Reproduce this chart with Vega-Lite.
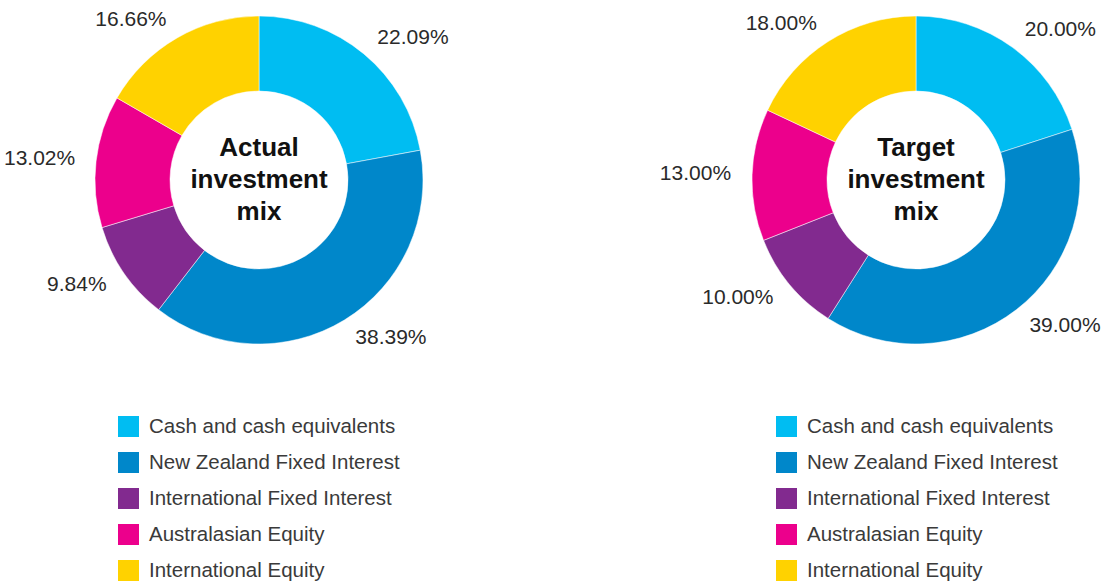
{
  "$schema": "https://vega.github.io/schema/vega-lite/v6.json",
  "padding": 0,
  "spacing": 204,
  "bounds": "flush",
  "background": "white",
  "config": {
    "view": {"stroke": null},
    "font": "Liberation Sans",
    "legend": {"padding": 0}
  },
  "datasets": {
    "actual": [
      {"category": "Cash and cash equivalents", "value": 22.09, "label": "22.09%", "ord": 1},
      {"category": "New Zealand Fixed Interest", "value": 38.39, "label": "38.39%", "ord": 2},
      {"category": "International Fixed Interest", "value": 9.84, "label": "9.84%", "ord": 3},
      {"category": "Australasian Equity", "value": 13.02, "label": "13.02%", "ord": 4},
      {"category": "International Equity", "value": 16.66, "label": "16.66%", "ord": 5}
    ],
    "target": [
      {"category": "Cash and cash equivalents", "value": 20.0, "label": "20.00%", "ord": 1},
      {"category": "New Zealand Fixed Interest", "value": 39.0, "label": "39.00%", "ord": 2},
      {"category": "International Fixed Interest", "value": 10.0, "label": "10.00%", "ord": 3},
      {"category": "Australasian Equity", "value": 13.0, "label": "13.00%", "ord": 4},
      {"category": "International Equity", "value": 18.0, "label": "18.00%", "ord": 5}
    ],
    "titles": [
      {"chart": "actual", "title": "Actual\ninvestment\nmix"},
      {"chart": "target", "title": "Target\ninvestment\nmix"}
    ]
  },
  "resolve": {"scale": {"color": "independent", "theta": "independent"}, "legend": {"color": "independent"}},
  "hconcat": [
    {
      "width": 518,
      "height": 360,
      "data": {"name": "actual"},
      "encoding": {
        "theta": {"field": "value", "type": "quantitative", "stack": true},
        "order": {"field": "ord", "type": "quantitative"}
      },
      "layer": [
        {
          "mark": {"type": "arc", "innerRadius": 89, "outerRadius": 164, "stroke": "white", "strokeWidth": 0.5},
          "encoding": {
            "color": {
              "field": "category", "type": "nominal",
              "scale": {
                "domain": ["Cash and cash equivalents", "New Zealand Fixed Interest", "International Fixed Interest", "Australasian Equity", "International Equity"],
                "range": ["#00BDF2", "#0087CA", "#822A8F", "#EC008C", "#FFD200"]
              },
              "legend": {
                "title": null, "orient": "none", "legendX": 118, "legendY": 416,
                "symbolType": "square", "symbolSize": 441, "symbolStrokeWidth": 0, "symbolOpacity": 1,
                "labelFont": "Liberation Sans", "labelFontSize": 20.5, "labelColor": "#3a3a3a",
                "labelOffset": 10, "rowPadding": 15, "labelLimit": 400
              }
            }
          }
        },
        {
          "mark": {"type": "text", "radius": 185, "align": "left", "baseline": "middle", "fontSize": 21, "color": "#2a2a2a"},
          "encoding": {
            "text": {"condition": {"test": "datum.ord <= 2", "field": "label"}, "value": ""}
          }
        },
        {
          "mark": {"type": "text", "radius": 185, "align": "right", "baseline": "middle", "fontSize": 21, "color": "#2a2a2a"},
          "encoding": {
            "text": {"condition": {"test": "datum.ord > 2", "field": "label"}, "value": ""}
          }
        },
        {
          "data": {"name": "titles"},
          "transform": [{"filter": "datum.chart == 'actual'"}],
          "mark": {"type": "text", "align": "center", "baseline": "middle", "dy": -32, "fontSize": 26, "fontWeight": "bold", "lineBreak": "\n", "lineHeight": 32, "color": "#111111"},
          "encoding": {"text": {"field": "title"}, "theta": null, "order": null}
        }
      ]
    },
    {
      "width": 388,
      "height": 360,
      "data": {"name": "target"},
      "encoding": {
        "theta": {"field": "value", "type": "quantitative", "stack": true},
        "order": {"field": "ord", "type": "quantitative"}
      },
      "layer": [
        {
          "mark": {"type": "arc", "innerRadius": 89, "outerRadius": 164, "stroke": "white", "strokeWidth": 0.5},
          "encoding": {
            "color": {
              "field": "category", "type": "nominal",
              "scale": {
                "domain": ["Cash and cash equivalents", "New Zealand Fixed Interest", "International Fixed Interest", "Australasian Equity", "International Equity"],
                "range": ["#00BDF2", "#0087CA", "#822A8F", "#EC008C", "#FFD200"]
              },
              "legend": {
                "title": null, "orient": "none", "legendX": 54, "legendY": 416,
                "symbolType": "square", "symbolSize": 441, "symbolStrokeWidth": 0, "symbolOpacity": 1,
                "labelFont": "Liberation Sans", "labelFontSize": 20.5, "labelColor": "#3a3a3a",
                "labelOffset": 10, "rowPadding": 15, "labelLimit": 400
              }
            }
          }
        },
        {
          "mark": {"type": "text", "radius": 185, "align": "left", "baseline": "middle", "fontSize": 21, "color": "#2a2a2a"},
          "encoding": {
            "text": {"condition": {"test": "datum.ord <= 2", "field": "label"}, "value": ""}
          }
        },
        {
          "mark": {"type": "text", "radius": 185, "align": "right", "baseline": "middle", "fontSize": 21, "color": "#2a2a2a"},
          "encoding": {
            "text": {"condition": {"test": "datum.ord > 2", "field": "label"}, "value": ""}
          }
        },
        {
          "data": {"name": "titles"},
          "transform": [{"filter": "datum.chart == 'target'"}],
          "mark": {"type": "text", "align": "center", "baseline": "middle", "dy": -32, "fontSize": 26, "fontWeight": "bold", "lineBreak": "\n", "lineHeight": 32, "color": "#111111"},
          "encoding": {"text": {"field": "title"}, "theta": null, "order": null}
        }
      ]
    }
  ]
}
